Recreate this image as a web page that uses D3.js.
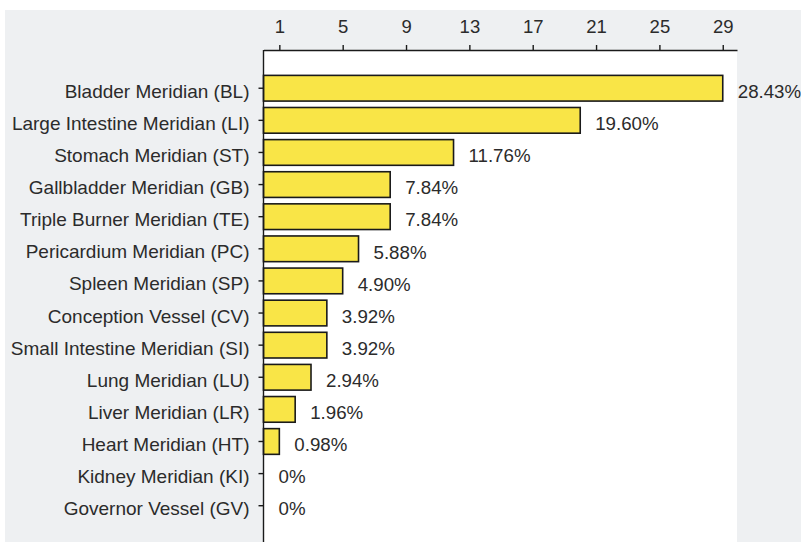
<!DOCTYPE html>
<html><head><meta charset="utf-8">
<script src="https://cdn.jsdelivr.net/npm/d3@7"></script>
<style>
html,body{margin:0;padding:0;background:#fff;}
svg{display:block;}
text{font-family:"Liberation Sans",Arial,Helvetica,sans-serif;}
</style></head>
<body>
<svg id="chart" width="801" height="544"></svg>
<script>
const categories = [
  "Bladder Meridian (BL)",
  "Large Intestine Meridian (LI)",
  "Stomach Meridian (ST)",
  "Gallbladder Meridian (GB)",
  "Triple Burner Meridian (TE)",
  "Pericardium Meridian (PC)",
  "Spleen Meridian (SP)",
  "Conception Vessel (CV)",
  "Small Intestine Meridian (SI)",
  "Lung Meridian (LU)",
  "Liver Meridian (LR)",
  "Heart Meridian (HT)",
  "Kidney Meridian (KI)",
  "Governor Vessel (GV)"
];
const counts = [29, 20, 12, 8, 8, 6, 5, 4, 4, 3, 2, 1, 0, 0];
const percentLabels = ["28.43%","19.60%","11.76%","7.84%","7.84%","5.88%","4.90%","3.92%","3.92%","2.94%","1.96%","0.98%","0%","0%"];
const tickValues = [1, 5, 9, 13, 17, 21, 25, 29];

const svg = d3.select("#chart");
const plot = {left: 263.5, right: 737, top: 50, bottom: 542};

svg.append("rect").attr("x", 5).attr("y", 10).attr("width", 796).attr("height", 532).attr("fill", "#eef0f2");
svg.append("rect").attr("x", plot.left).attr("y", plot.top)
  .attr("width", plot.right - plot.left).attr("height", plot.bottom - plot.top).attr("fill", "#ffffff");

const x = d3.scaleLinear().domain([0, 29.9]).range([plot.left, plot.right]);
const y = d3.scaleBand().domain(categories).range([plot.top, plot.bottom])
  .paddingInner(0.2).paddingOuter(0.76).align(0.52);

const data = categories.map((c, i) => ({cat: c, v: counts[i], lab: percentLabels[i]}));

svg.append("g").selectAll("rect").data(data.filter(d => d.v > 0)).join("rect")
  .attr("x", x(0)).attr("y", d => y(d.cat))
  .attr("width", d => x(d.v) - x(0)).attr("height", y.bandwidth())
  .attr("fill", "#f9e547").attr("stroke", "#1a1a1a").attr("stroke-width", 1.6);

svg.append("g").selectAll("text").data(data).join("text")
  .attr("x", d => x(d.v) + 15).attr("y", d => y(d.cat) + y.bandwidth() / 2)
  .attr("dy", "0.52em").attr("font-size", "18.7px").attr("fill", "#2b2b2b")
  .text(d => d.lab);

const xAxis = svg.append("g").attr("transform", `translate(0,${plot.top})`)
  .call(d3.axisTop(x).tickValues(tickValues).tickSize(5).tickPadding(12.5).tickSizeOuter(0));
xAxis.selectAll("text").attr("font-size", "18.5px").attr("fill", "#2b2b2b").style("font-family", '"Liberation Sans",Arial,sans-serif');
xAxis.selectAll("line,path").attr("stroke", "#1a1a1a").attr("stroke-width", 1.4);

const yAxis = svg.append("g").attr("transform", `translate(${plot.left},0)`)
  .call(d3.axisLeft(y).tickSize(5).tickPadding(9).tickSizeOuter(0));
yAxis.select(".domain").remove();
yAxis.append("line").attr("x1", 0).attr("x2", 0).attr("y1", plot.top).attr("y2", plot.bottom)
  .attr("stroke", "#1a1a1a").attr("stroke-width", 1.4);
yAxis.selectAll("text").attr("font-size", "19px").attr("dy", "0.5em").attr("fill", "#2b2b2b").style("font-family", '"Liberation Sans",Arial,sans-serif');
yAxis.selectAll(".tick line").attr("stroke", "#1a1a1a").attr("stroke-width", 1.4);
</script>
</body></html>
